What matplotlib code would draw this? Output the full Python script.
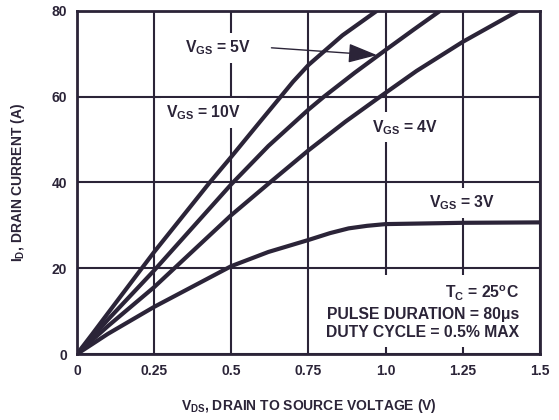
import matplotlib
matplotlib.use("Agg")
import matplotlib.pyplot as plt

plt.rcParams['font.family'] = ['Liberation Sans', 'DejaVu Sans']
plt.rcParams['font.weight'] = 'bold'
plt.rcParams['axes.labelweight'] = 'bold'
plt.rcParams['mathtext.fontset'] = 'custom'
plt.rcParams['mathtext.rm'] = 'Liberation Sans:bold'
plt.rcParams['mathtext.bf'] = 'Liberation Sans:bold'
plt.rcParams['mathtext.it'] = 'Liberation Sans:bold'
plt.rcParams['mathtext.default'] = 'rm'

ink = '#2b2438'

# curves: V_DS (V) vs I_D (A)
vds_10 = [0, 0.05, 0.1, 0.21, 0.25, 0.43, 0.5, 0.598, 0.652, 0.7, 0.75, 0.86, 0.971]
id_10 = [0, 4.7, 9.5, 20, 23.8, 40, 46, 54.6, 59.3, 63.5, 67.4, 74.3, 80]

vds_5 = [0, 0.05, 0.1, 0.25, 0.5, 0.62, 0.75, 0.8, 0.9, 1.0, 1.09, 1.176]
id_5 = [0, 4.0, 8.0, 19.5, 39.6, 48.5, 57, 60, 65.6, 70.9, 75.6, 80]

vds_4 = [0, 0.05, 0.1, 0.25, 0.5, 0.625, 0.75, 0.87, 0.982, 1.1, 1.25, 1.429]
id_4 = [0, 3.3, 6.5, 15.6, 32.4, 40, 47.5, 54.2, 60, 66, 72.8, 80]

vds_3 = [0, 0.1, 0.25, 0.5, 0.62, 0.75, 0.82, 0.88, 0.94, 1.0, 1.25, 1.5]
id_3 = [0, 4.7, 11, 20.5, 23.8, 26.6, 28.2, 29.3, 29.9, 30.3, 30.6, 30.7]

x_ticks = [0, 0.25, 0.5, 0.75, 1.0, 1.25, 1.5]
x_labels = ['0', '0.25', '0.5', '0.75', '1.0', '1.25', '1.5']
y_ticks = [0, 20, 40, 60, 80]

fig = plt.figure(figsize=(5.59, 4.2), dpi=100)
ax = fig.add_axes([0.1377, 0.157, 0.8283, 0.817])

for v, i in [(vds_10, id_10), (vds_5, id_5), (vds_4, id_4), (vds_3, id_3)]:
    ax.plot(v, i, color=ink, lw=3.0, solid_capstyle='butt',
            solid_joinstyle='round', zorder=3)

ax.set_xlim(0, 1.5)
ax.set_ylim(0, 80)
ax.set_xticks(x_ticks)
ax.set_xticklabels(x_labels)
ax.set_yticks(y_ticks)
ax.grid(True, color=ink, lw=1.5)
ax.set_axisbelow(True)
ax.tick_params(length=0, labelsize=10, colors=ink, pad=7)
for s in ax.spines.values():
    s.set_color(ink)
    s.set_linewidth(2.0)

box = dict(facecolor='white', edgecolor='none', pad=4)
fs = 11.3
ax.text(0.457, 71.4, r'$\mathrm{V_{GS}}$ = 5V', fontsize=fs, color=ink,
        ha='center', va='center', bbox=box, zorder=4)
ax.text(0.411, 56.2, r'$\mathrm{V_{GS}}$ = 10V', fontsize=fs, color=ink,
        ha='center', va='center', bbox=box, zorder=4)
ax.text(1.063, 52.9, r'$\mathrm{V_{GS}}$ = 4V', fontsize=fs, color=ink,
        ha='center', va='center', bbox=box, zorder=4)
ax.text(1.247, 35.2, r'$\mathrm{V_{GS}}$ = 3V', fontsize=fs, color=ink,
        ha='center', va='center', bbox=box, zorder=4)
ax.annotate('', xy=(0.972, 69.7), xytext=(0.63, 71.4),
            arrowprops=dict(arrowstyle='-|>,head_length=0.9,head_width=0.3',
                            color=ink, lw=1.0, mutation_scale=20,
                            shrinkA=0, shrinkB=0),
            zorder=5)

ax.text(1.432, 9.8,
        r'$\mathrm{T_C}$ = 25$\mathrm{^oC}$' + '\n' +
        'PULSE DURATION = 80\u03bcs\nDUTY CYCLE = 0.5% MAX',
        fontsize=fs, color=ink, ha='right', va='center', multialignment='right',
        linespacing=1.3, bbox=dict(facecolor='white', edgecolor='none', pad=5),
        zorder=4)

ax.set_xlabel(r'$\mathrm{V_{DS}}$, DRAIN TO SOURCE VOLTAGE (V)', fontsize=10,
              color=ink, labelpad=14)
ax.set_ylabel(r'$\mathrm{I_D}$, DRAIN CURRENT (A)', fontsize=10, color=ink,
              labelpad=18)

fig.savefig('out.png', dpi=100)
